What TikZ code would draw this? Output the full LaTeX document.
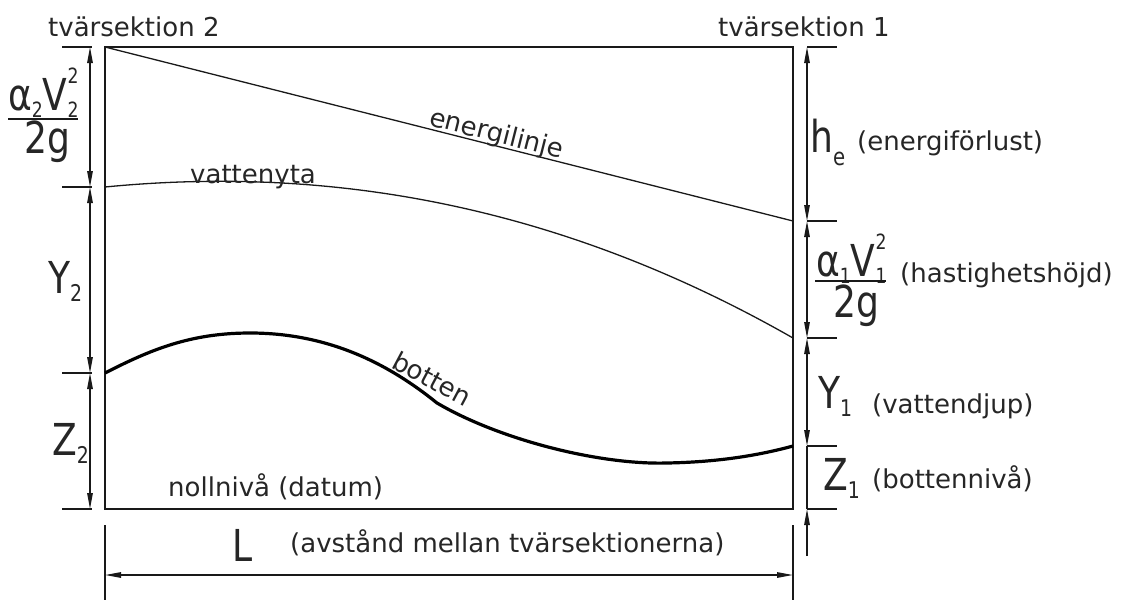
\documentclass[tikz,border=0pt]{standalone}
\usepackage{fontspec}
\setmainfont{DejaVu Sans}
\newfontfamily\symfont[FakeStretch=0.82]{DejaVu Sans}
\usetikzlibrary{arrows.meta}
\newcommand\mysb[1]{\raisebox{-8pt}{\fontsize{23}{24}\selectfont #1}}
\newcommand\myfsb[1]{\raisebox{-7pt}{\fontsize{21}{22}\selectfont #1}}
\newcommand\myfsp[1]{\raisebox{27pt}{\fontsize{21}{22}\selectfont #1}}
\newcommand\mysbe[1]{\raisebox{-13pt}{\fontsize{24}{24}\selectfont #1}}
\tikzset{
  thin line/.style={line width=1.3pt, black!90},
  thick bed/.style={line width=3.2pt, black},
  dimline/.style={line width=1.3pt, black!90},
  dimboth/.style={dimline, {Triangle[length=16pt,width=5.5pt]}-{Triangle[length=16pt,width=5.5pt]}},
  dimend/.style={dimline, -{Triangle[length=16pt,width=5.5pt]}},
  lbl/.style={font=\fontsize{26}{28}\selectfont, text=black!85, inner sep=0pt},
  biglbl/.style={font=\symfont\fontsize{44}{48}\selectfont, text=black!85, inner sep=0pt},
}
\begin{document}
\begin{tikzpicture}[x=1pt,y=-1pt]
\useasboundingbox (0,0) rectangle (1130,600);
% frame
\draw[thin line] (105,47) rectangle (793,509);
% energy line
\coordinate (E2) at (105,47);
\coordinate (E1) at (793,221);
\draw[thin line] (E2) -- (E1);
% water surface
\coordinate (W2) at (105,187);
\coordinate (W1) at (793,338);
\draw[thin line] (W2) .. controls (330,165) and (560,205) .. (W1);
% bottom
\coordinate (B2) at (105,373);
\coordinate (B1) at (793,446);
\draw[thick bed] (B2) .. controls (150,350) and (190,333) .. (250,333)
  .. controls (330,333) and (390,365) .. (437,403)
  .. controls (500,440) and (600,465) .. (667,463)
  .. controls (720,462) and (760,455) .. (B1);
% left dimension ticks
\foreach \yy in {47,187,373,509} \draw[dimline] (62,\yy) -- (92,\yy);
\coordinate (la) at (90,47);
\coordinate (lb) at (90,187);
\coordinate (lc) at (90,373);
\coordinate (ld) at (90,509);
\draw[dimboth] (la) -- (lb);
\draw[dimboth] (lb) -- (lc);
\draw[dimboth] (lc) -- (ld);
% right dimension ticks
\foreach \yy in {47,221,338,446,509} \draw[dimline] (807,\yy) -- (837,\yy);
\coordinate (ra) at (807,47);
\coordinate (rb) at (807,221);
\coordinate (rc) at (807,338);
\coordinate (rd) at (807,446);
\coordinate (re) at (807,509);
\coordinate (rf) at (807,556);
\draw[dimboth] (ra) -- (rb);
\draw[dimboth] (rb) -- (rc);
\draw[dimboth] (rc) -- (rd);
\draw[dimline] (rd) -- (re);
\draw[dimend] (rf) -- (re);
% bottom dimension
\draw[dimline] (105,525) -- (105,600);
\draw[dimline] (793,525) -- (793,600);
\coordinate (La) at (105,575);
\coordinate (Lb) at (793,575);
\draw[dimboth] (La) -- (Lb);
% labels
\node[lbl, anchor=base west] (ts2) at (48,36) {tvärsektion 2};
\node[lbl, anchor=base west] (ts1) at (718,36) {tvärsektion 1};
\node[lbl, anchor=base west, rotate=-14.2] (el) at (428,125) {energilinje};
\node[lbl, anchor=base west] (vy) at (190,183) {vattenyta};
\node[lbl, anchor=base west, rotate=-28] (bt) at (390,367) {botten};
\node[lbl, anchor=base west] (nn) at (168,496) {nollnivå (datum)};
\node[biglbl, anchor=base west] (L) at (232,561) {L};
\node[lbl, anchor=base west] (Lt) at (290,552) {(avstånd mellan tvärsektionerna)};
% left side symbols
\node[biglbl, anchor=base west] (num2) at (8,110) {α\myfsb{2}V\rlap{\myfsp{2}}\myfsb{2}};
\draw[dimline] (8,119) -- (78,119);
\node[biglbl, anchor=base] (den2) at (47,153) {2g};
\node[biglbl, anchor=base west] (Y2) at (48,293) {Y\mysb{2}};
\node[biglbl, anchor=base west] (Z2) at (52,455) {Z\mysb{2}};
% right side symbols
\node[biglbl, anchor=base west] (he) at (810,152) {h\mysbe{e}};
\node[lbl, anchor=base west] (hetxt) at (857,150) {(energiförlust)};
\node[biglbl, anchor=base west] (num1) at (816,276) {α\myfsb{1}V\rlap{\myfsp{2}}\myfsb{1}};
\draw[dimline] (815,281) -- (886,281);
\node[biglbl, anchor=base] (den1) at (856,317) {2g};
\node[lbl, anchor=base west] (hvtxt) at (900,282) {(hastighetshöjd)};
\node[biglbl, anchor=base west] (Y1) at (818,408) {Y\mysb{1}};
\node[lbl, anchor=base west] (y1txt) at (872,413) {(vattendjup)};
\node[biglbl, anchor=base west] (Z1) at (823,490) {Z\mysb{1}};
\node[lbl, anchor=base west] (z1txt) at (872,488) {(bottennivå)};
\end{tikzpicture}
\end{document}
